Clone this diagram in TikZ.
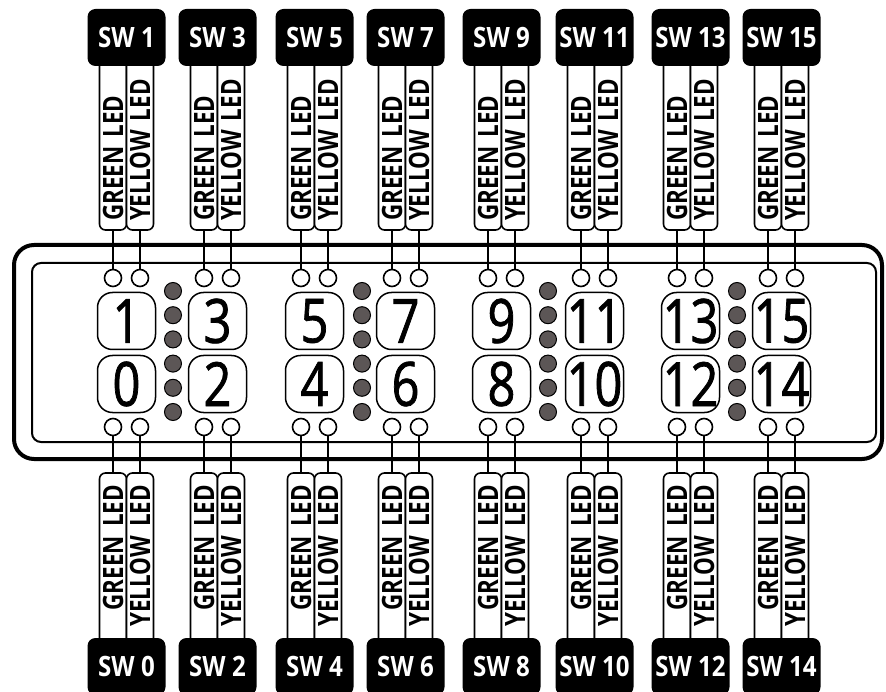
\documentclass[tikz,border=0pt]{standalone}
\usepackage{fontspec}
\setmainfont{Open Sans}
\newfontfamily\swfont[FakeStretch=0.86]{Open Sans}
\newfontfamily\tabfont[FakeStretch=0.8]{Open Sans}
\newfontfamily\keyfont[FakeStretch=0.8,FakeBold=1.2]{Open Sans}
\usetikzlibrary{positioning}
\definecolor{dotgrey}{HTML}{5C5656}

\tikzset{
  swbox/.style={fill=black,text=white,rounded corners=8pt,minimum width=78pt,
    minimum height=57pt,inner sep=0pt,font=\swfont\bfseries\fontsize{28}{28}\selectfont},
  ledtab/.style={draw,line width=1.6pt,fill=white,rounded corners=6pt,rotate=90,
    minimum width=175pt,minimum height=27pt,inner ysep=0pt,
    font=\tabfont\bfseries\fontsize{28}{28}\selectfont},
  ledring/.style={draw,circle,line width=1.6pt,fill=white,minimum size=17pt,inner sep=0pt},
  numkey/.style={draw,line width=1.5pt,rounded corners=15pt,minimum width=58pt,
    minimum height=57pt,inner sep=0pt,font=\keyfont\fontsize{61}{61}\selectfont},
  statusdot/.style={draw,circle,line width=1pt,fill=dotgrey,minimum size=17pt,inner sep=0pt},
  wire/.style={line width=1.8pt}
}

\begin{document}
\begin{tikzpicture}[x=1pt,y=-1pt]
  \path[use as bounding box] (0,0) rectangle (886,692);
  \clip (0,0) rectangle (886,692);

  \draw[line width=4pt,rounded corners=20pt] (14,245) rectangle (882,459);
  \draw[line width=2pt,rounded corners=9pt] (32,263) rectangle (876,442);

  \foreach \n/\x in {1/126.5,3/217.5,5/314.5,7/405.5,9/501.5,11/594.5,13/690.5,15/781.5}{
    \pgfmathtruncatemacro\m{\n-1}
    % top side
    \node[ledtab,align=left,text width=157pt,inner xsep=9pt] (gt\n) at (\x-13.5,142.5) {GREEN LED};
    \node[ledtab,align=left,text width=157pt,inner xsep=9pt] (yt\n) at (\x+13.5,142.5) {YELLOW LED};
    \node[swbox] (swt\n) at (\x,37.5) {SW \n};
    \node[ledring] (rgt\n) at (\x-13.5,278) {};
    \node[ledring] (ryt\n) at (\x+13.5,278) {};
    \draw[wire] (gt\n.west) -- (rgt\n.north);
    \draw[wire] (yt\n.west) -- (ryt\n.north);
    % bottom side
    \node[ledtab,align=right,text width=151pt,inner xsep=12pt] (gb\n) at (\x-13.5,560.5) {GREEN LED};
    \node[ledtab,align=right,text width=151pt,inner xsep=12pt] (yb\n) at (\x+13.5,560.5) {YELLOW LED};
    \node[swbox] (swb\n) at (\x,666.5) {SW \m};
    \node[ledring] (rgb\n) at (\x-13.5,427) {};
    \node[ledring] (ryb\n) at (\x+13.5,427) {};
    \draw[wire] (gb\n.east) -- (rgb\n.south);
    \draw[wire] (yb\n.east) -- (ryb\n.south);
    % keys
    \node[numkey] (kt\n) at (\x,321) {\n};
    \node[numkey] (kb\n) at (\x,384) {\m};
  }

  \foreach \x in {173,362,548,737}
    \foreach \y [count=\k] in {291,315.2,339.4,363.6,387.8,412}
      \node[statusdot] (dot\x-\k) at (\x,\y) {};
\end{tikzpicture}
\end{document}
